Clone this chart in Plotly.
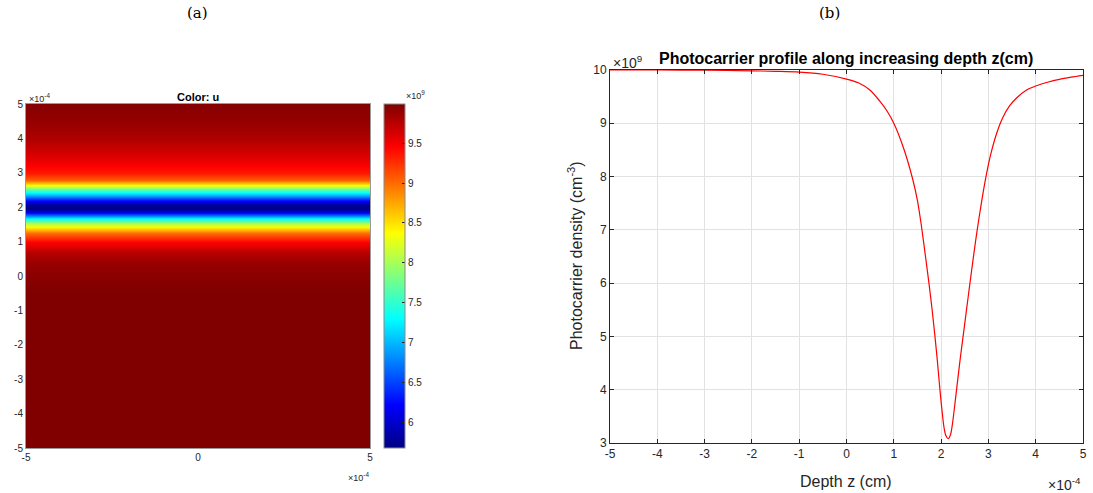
import plotly.graph_objects as go

# ---------------- data ----------------
# (a) surface map: u along depth y (units of 1e-4 cm), values in 1e9
depth_a = [-5.0, -4.0, -3.0, -2.0, -1.0, -0.5, 0.0, 0.4, 0.7, 1.0, 1.25, 1.4,
           1.55, 1.7, 1.85, 1.95, 2.05, 2.2, 2.35, 2.5, 2.65, 2.8, 3.0, 3.5,
           4.0, 4.5, 5.0]
u_a = [10.0, 10.0, 10.0, 10.0, 10.0, 9.99, 9.95, 9.88, 9.75, 9.45, 9.0, 8.5,
       8.0, 7.2, 6.1, 5.72, 5.75, 6.3, 7.0, 7.6, 8.4, 9.05, 9.35, 9.6,
       9.8, 9.9, 9.97]
width_a = [-5.0, 5.0]

# (b) profile along depth z (units of 1e-4 cm), density in 1e9 cm^-3
depth_b = [-5.0, -4.0, -3.0, -2.0, -1.5, -1.0, -0.5, 0.0, 0.25, 0.5, 0.7, 0.85,
           1.0, 1.2, 1.4, 1.5, 1.58, 1.67, 1.75, 1.81, 1.87, 1.92, 1.97, 2.02,
           2.06, 2.10, 2.15, 2.20, 2.24, 2.29, 2.34, 2.40, 2.465, 2.53, 2.61,
           2.68, 2.76, 2.86, 2.96, 3.05, 3.17, 3.3, 3.45, 3.6, 3.8, 4.0, 4.25,
           4.5, 4.75, 5.0]
density_b = [10.0, 10.0, 9.995, 9.985, 9.975, 9.96, 9.92, 9.83, 9.76, 9.62, 9.42, 9.24,
             9.0, 8.55, 7.95, 7.55, 7.1, 6.5, 5.95, 5.5, 5.0, 4.55, 4.05, 3.6,
             3.3, 3.14, 3.08, 3.16, 3.36, 3.72, 4.1, 4.55, 5.0, 5.45, 6.0,
             6.47, 6.98, 7.55, 8.05, 8.42, 8.8, 9.1, 9.33, 9.48, 9.62, 9.7, 9.77,
             9.825, 9.865, 9.9]

ticks_ab = [-5, -4, -3, -2, -1, 0, 1, 2, 3, 4, 5]
cbar_ticks = [6, 6.5, 7, 7.5, 8, 8.5, 9, 9.5]
density_ticks = [3, 4, 5, 6, 7, 8, 9, 10]

# ---------------- style ----------------
W, H = 1093, 493
FONT = "Liberation Sans"
INK = "#262626"
JET = [[0.0, "rgb(0,0,131)"], [0.125, "rgb(0,0,255)"], [0.375, "rgb(0,255,255)"],
       [0.625, "rgb(255,255,0)"], [0.875, "rgb(255,0,0)"], [1.0, "rgb(128,0,0)"]]


def px(x):
    return x / W


def py(y):
    return 1 - y / H


fig = go.Figure()

fig.add_trace(go.Heatmap(
    x=width_a, y=depth_a, z=[[v, v] for v in u_a],
    colorscale=JET, zmin=5.68, zmax=9.99, zsmooth="best",
    xaxis="x", yaxis="y", hoverinfo="skip",
    colorbar=dict(
        x=px(384), xanchor="left", xpad=0,
        y=py((104 + 448) / 2), yanchor="middle", ypad=0,
        thickness=21, thicknessmode="pixels",
        len=344, lenmode="pixels",
        tickvals=cbar_ticks, ticktext=[f"{t:g}" for t in cbar_ticks],
        ticks="inside", ticklen=3, tickcolor=INK,
        tickfont=dict(family=FONT, size=10, color=INK),
        outlinecolor="#8a8a8a", outlinewidth=1,
    ),
))

fig.add_trace(go.Scatter(
    x=depth_b, y=density_b, mode="lines",
    line=dict(color="#ff0000", width=1.2, shape="spline", smoothing=0.8),
    xaxis="x2", yaxis="y2", hoverinfo="skip", showlegend=False,
))

fig.update_layout(
    width=W, height=H,
    margin=dict(l=0, r=0, t=0, b=0, autoexpand=False),
    paper_bgcolor="white", plot_bgcolor="white",
    showlegend=False,
    xaxis=dict(
        domain=[px(26), px(370)], range=[-5, 5], anchor="y",
        tickvals=[-5, 0, 5], ticktext=["-5", "0", "5"],
        showgrid=False, zeroline=False, showline=True, mirror=True,
        linecolor="#9a9a9a", linewidth=1, ticks="",
        tickfont=dict(family=FONT, size=10, color=INK),
    ),
    yaxis=dict(
        domain=[py(448), py(104)], range=[-5, 5], anchor="x",
        tickvals=ticks_ab, ticktext=[str(t) for t in ticks_ab],
        showgrid=False, zeroline=False, showline=True, mirror=True,
        linecolor="#9a9a9a", linewidth=1, ticks="",
        tickfont=dict(family=FONT, size=10, color=INK),
    ),
    xaxis2=dict(
        domain=[px(610), px(1083)], range=[-5, 5], anchor="y2",
        tickvals=ticks_ab, ticktext=[str(t) for t in ticks_ab],
        showgrid=True, gridcolor="#e2e2e2", gridwidth=1, zeroline=False,
        showline=True, mirror="ticks", linecolor=INK, linewidth=1,
        ticks="inside", ticklen=4, tickcolor=INK,
        tickfont=dict(family=FONT, size=12, color=INK),
    ),
    yaxis2=dict(
        domain=[py(443), py(70)], range=[3, 10], anchor="x2",
        tickvals=density_ticks, ticktext=[str(t) for t in density_ticks],
        showgrid=True, gridcolor="#e2e2e2", gridwidth=1, zeroline=False,
        showline=True, mirror="ticks", linecolor=INK, linewidth=1,
        ticks="inside", ticklen=4, tickcolor=INK,
        tickfont=dict(family=FONT, size=12, color=INK),
    ),
)


def note(x, y, text, size=12, family=FONT, xanchor="center", yanchor="middle",
         angle=0, color=INK):
    fig.add_annotation(
        x=px(x), y=py(y), xref="paper", yref="paper", text=text,
        showarrow=False, xanchor=xanchor, yanchor=yanchor, textangle=angle,
        font=dict(family=family, size=size, color=color),
    )


# panel letters
note(197, 13, "(a)", size=15, family="DejaVu Serif", color="black")
note(829, 13, "(b)", size=15, family="DejaVu Serif", color="black")

# panel (a) texts
note(198, 97, "<b>Color: u</b>", size=11, color="black")
note(27, 98, "×10<sup>-4</sup>", size=9, xanchor="left")
note(371, 477, "×10<sup>-4</sup>", size=9, xanchor="right")
note(404, 95, "×10<sup>9</sup>", size=9, xanchor="left")

# panel (b) texts
note(846, 58, "<b>Photocarrier profile along increasing depth z(cm)</b>", size=16,
     color="black")
note(611, 62, "×10<sup>9</sup>", size=14, xanchor="left")
note(1083, 484, "×10<sup>-4</sup>", size=14, xanchor="right")
note(846, 481, "Depth z (cm)", size=16)
note(575, 256, "Photocarrier density (cm<sup>-3</sup>)", size=16, angle=-90)

fig.write_html("out.html")
